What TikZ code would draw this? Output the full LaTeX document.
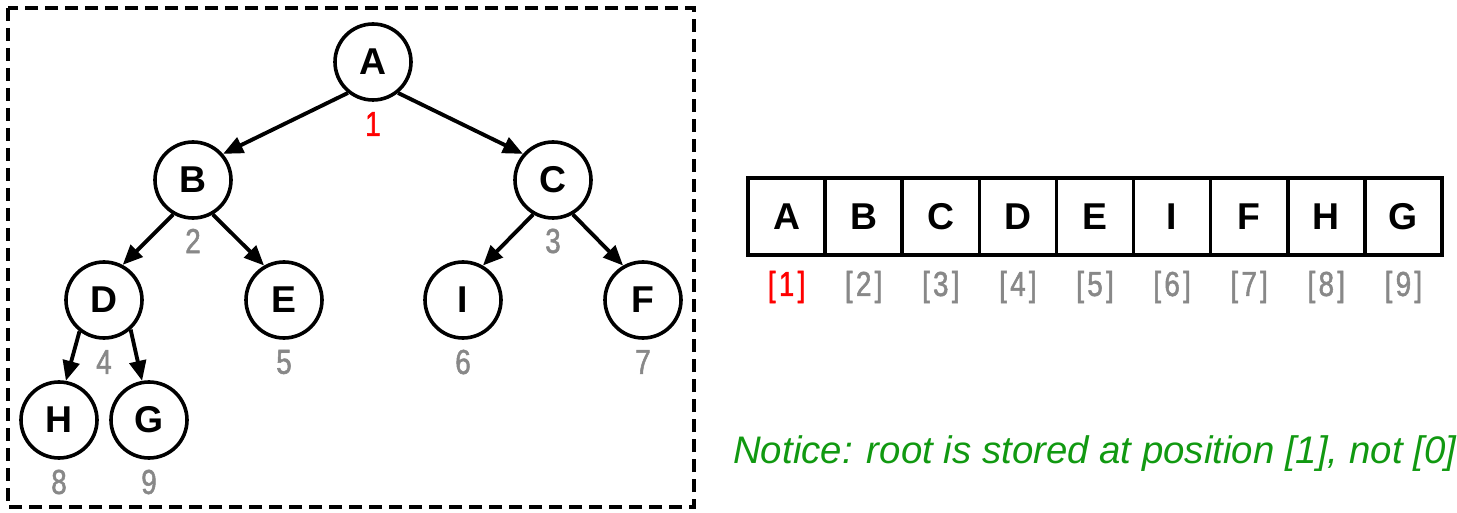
\documentclass[tikz,border=0pt]{standalone}
\usepackage{fontspec}
\setmainfont{Liberation Sans}
\newfontfamily\numfont[FakeStretch=0.8,FakeBold=1.5]{Liberation Sans}
\usetikzlibrary{arrows.meta}
\definecolor{idxgray}{RGB}{136,136,136}
\definecolor{idxred}{RGB}{255,0,0}
\definecolor{notegreen}{RGB}{17,153,17}
\newcommand{\brk}[1]{[\kern2.5pt#1\kern2.5pt]}
\begin{document}
\begin{tikzpicture}[x=0.75pt,y=-0.75pt,
  treenode/.style={circle, draw, line width=2.7pt, minimum size=57pt, inner sep=0pt,
    font=\fontsize{28}{28}\selectfont\bfseries},
  edge/.style={line width=2.9pt, -{Triangle[length=15pt,width=12.5pt]}},
  numlbl/.style={text=idxgray, inner sep=0pt, font=\numfont\fontsize{26}{26}\selectfont},
  cell/.style={draw, line width=2.7pt, minimum width=57.8pt, minimum height=57.8pt, inner sep=0pt,
    font=\fontsize{28}{28}\selectfont\bfseries},
  frame/.style={draw, line width=2.5pt, dash pattern=on 9.75pt off 5.25pt}
]
\useasboundingbox (0,0) rectangle (1457,513);
\draw[frame] (8,8) rectangle (694,507);

% tree nodes
\node[treenode] (A) at (373,62) {A};
\node[treenode] (B) at (193,180) {B};
\node[treenode] (C) at (553,180) {C};
\node[treenode] (D) at (104,300) {D};
\node[treenode] (E) at (284,300) {E};
\node[treenode] (I) at (463,300) {I};
\node[treenode] (F) at (643,300) {F};
\node[treenode] (H) at (59,420) {H};
\node[treenode] (G) at (149,420) {G};

\draw[edge] (A.231) -- (B.41);
\draw[edge] (A.309) -- (C.139);
\draw[edge] (B.240) -- (D.62);
\draw[edge] (B.300) -- (E.120);
\draw[edge] (C.240) -- (I.60);
\draw[edge] (C.300) -- (F.120);
\draw[edge] (D.232) -- (H.80);
\draw[edge] (D.312) -- (G.100);

% tree index labels
\node[numlbl, text=idxred] (nA) at (373,124) {1};
\node[numlbl] (nB) at (193,241) {2};
\node[numlbl] (nC) at (553,241) {3};
\node[numlbl] (nD) at (104,362) {4};
\node[numlbl] (nE) at (284,362) {5};
\node[numlbl] (nI) at (463,362) {6};
\node[numlbl] (nF) at (643,362) {7};
\node[numlbl] (nH) at (59,482) {8};
\node[numlbl] (nG) at (149,482) {9};

% array
\foreach \i/\t in {1/A,2/B,3/C,4/D,5/E,6/I,7/F,8/H,9/G}{
  \node[cell] (a\i) at ({786.6+77.1*(\i-1)},216.5) {\t};
}
\node[numlbl, text=idxred] (i1) at (786.6,287) {\brk{1}};
\foreach \i in {2,...,9}{
  \node[numlbl] (i\i) at ({786.6+77.1*(\i-1)},287) {\brk{\i}};
}

\node[anchor=base west, inner sep=0pt, text=notegreen,
  font=\itshape\fontsize{28.8}{28.8}\selectfont] (note) at (733,463)
  {Notice: root is stored at position [1], not [0]};
\end{tikzpicture}
\end{document}
